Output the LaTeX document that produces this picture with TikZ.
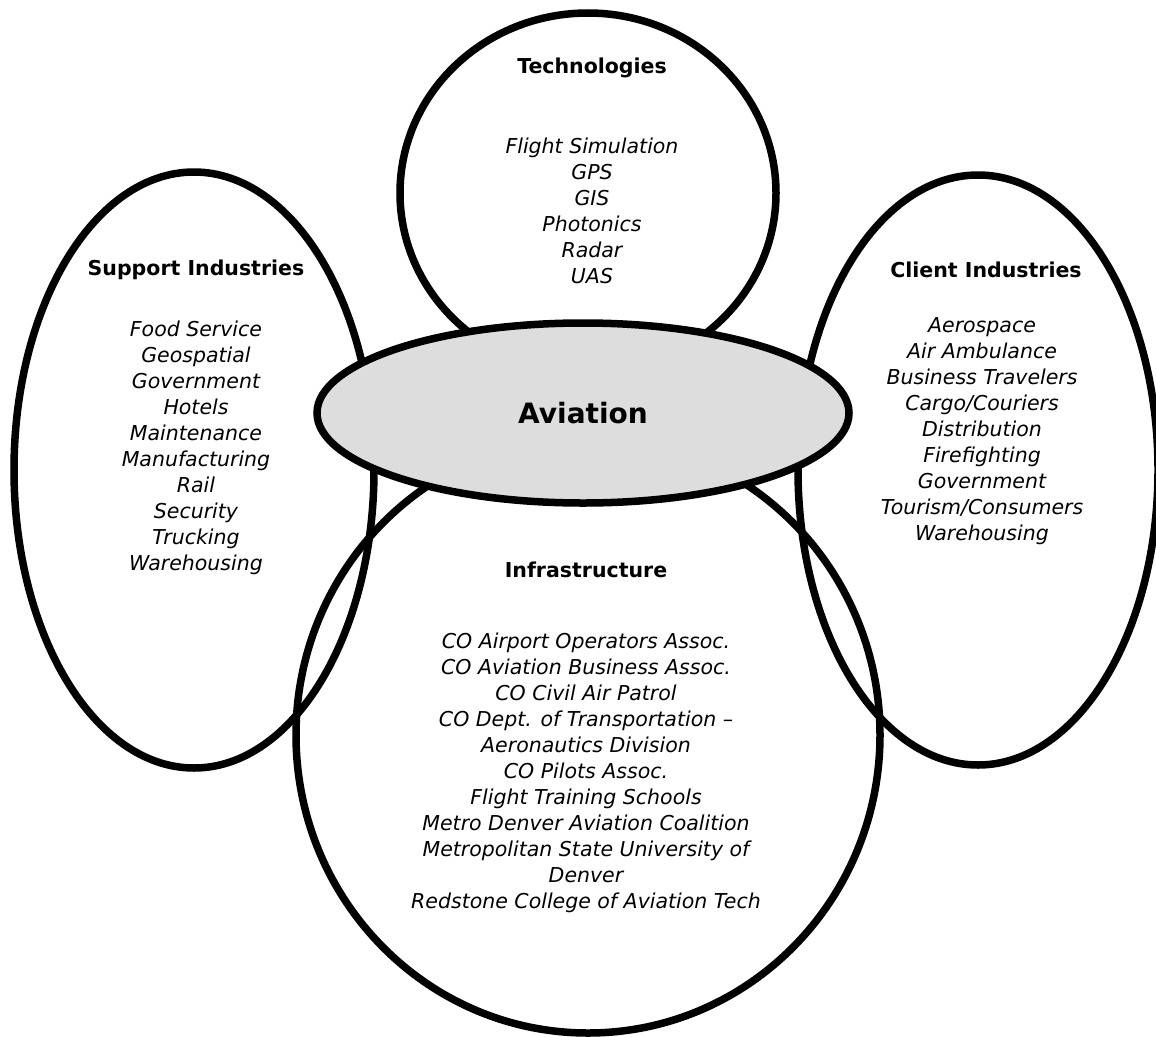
\documentclass[tikz,border=0pt]{standalone}
\usepackage{fontspec}
\setmainfont{DejaVu Sans}
\usetikzlibrary{shapes.geometric}
\definecolor{hubgray}{RGB}{221,221,221}
\tikzset{
  ring/.style={ellipse, draw=black, line width=7.5pt, inner sep=0pt, outer sep=0pt},
  hub/.style={ring, fill=hubgray},
  title/.style={font=\fontsize{20.5}{26}\selectfont\bfseries, inner sep=0pt},
  items/.style={font=\fontsize{20.5}{26}\selectfont\itshape, align=center, inner sep=0pt},
  hubtext/.style={font=\fontsize{28}{32}\selectfont\bfseries, inner sep=0pt}
}
\begin{document}
\begin{tikzpicture}[x=1pt,y=-1pt]
\useasboundingbox (0,0) rectangle (1156,1036);
% outlines
\node[ring, minimum width=376pt, minimum height=360pt] (tech) at (588,193) {};
\node[ring, minimum width=360pt, minimum height=596pt] (supp) at (194,470) {};
\node[ring, minimum width=360pt, minimum height=590pt] (client) at (978,470) {};
\node[ring, minimum width=584pt, minimum height=596pt] (infra) at (588,735) {};
\node[hub, minimum width=532pt, minimum height=180pt] (avi) at (583,413) {};
% texts
\node[hubtext] (avit) at (583,413) {Aviation};
\node[title] (techt) at (592,68) {Technologies};
\node[items] (techl) at (592,211) {Flight Simulation\\GPS\\GIS\\Photonics\\Radar\\UAS};
\node[title] (suppt) at (196,270) {Support Industries};
\node[items] (suppl) at (196,448) {Food Service\\Geospatial\\Government\\Hotels\\Maintenance\\Manufacturing\\Rail\\Security\\Trucking\\Warehousing};
\node[title] (clientt) at (986,270) {Client Industries};
\node[items] (clientl) at (982,431) {Aerospace\\Air Ambulance\\Business Travelers\\Cargo/Couriers\\Distribution\\Firefighting\\Government\\Tourism/Consumers\\Warehousing};
\node[title] (infrat) at (586,570) {Infrastructure};
\node[items] (infral) at (586,773) {CO Airport Operators Assoc.\\CO Aviation Business Assoc.\\CO Civil Air Patrol\\CO Dept. of Transportation –\\Aeronautics Division\\CO Pilots Assoc.\\Flight Training Schools\\Metro Denver Aviation Coalition\\Metropolitan State University of\\Denver\\Redstone College of Aviation Tech};
\end{tikzpicture}
\end{document}
